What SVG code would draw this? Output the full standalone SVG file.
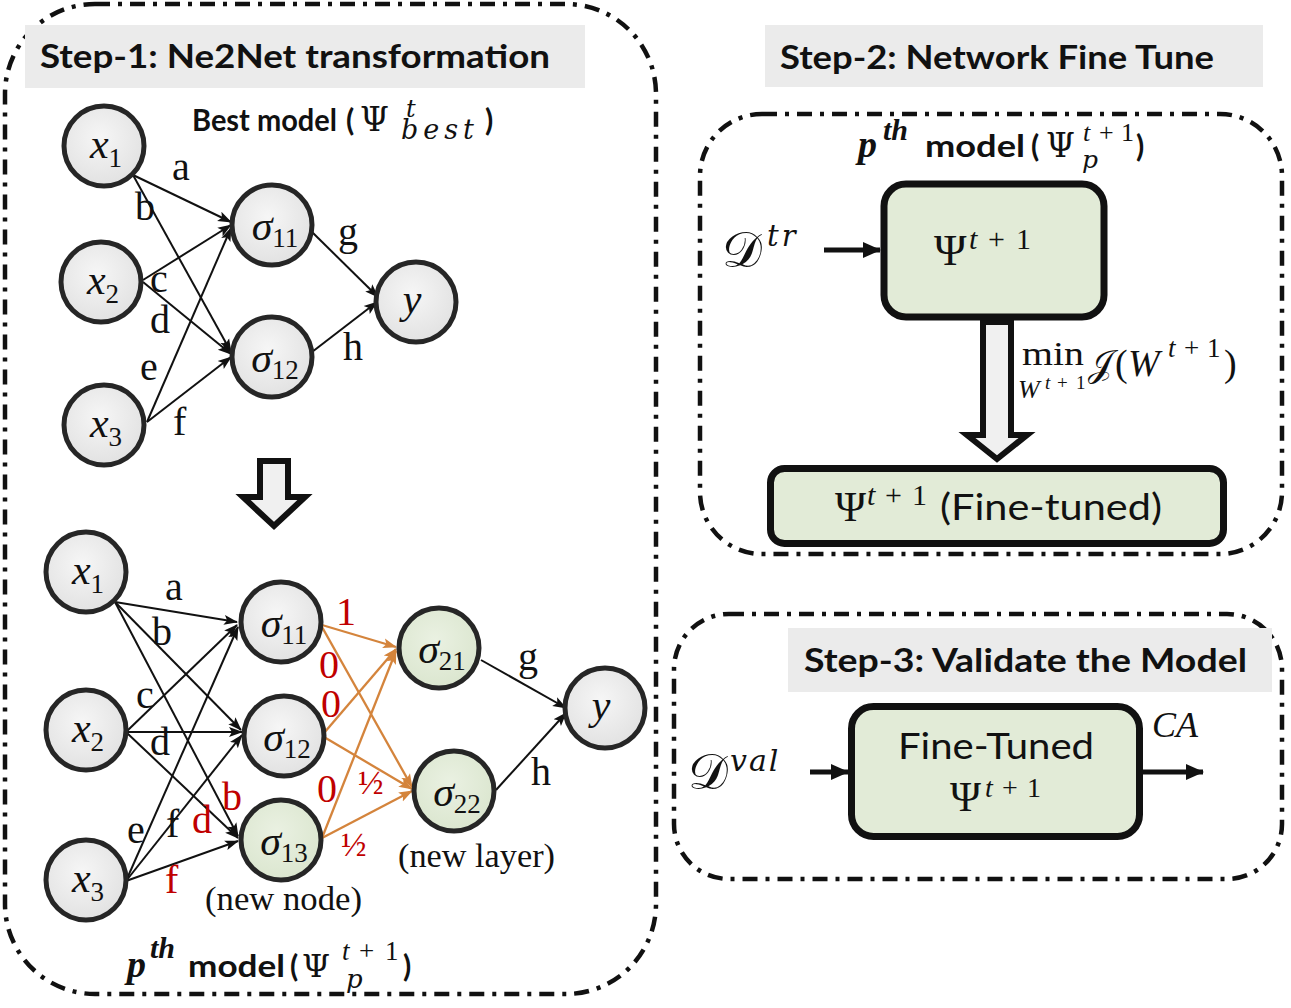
<svg xmlns="http://www.w3.org/2000/svg" width="1291" height="1008" viewBox="0 0 1291 1008">
<defs>
<style>
.frame{fill:none;stroke:#111;stroke-width:4.5;stroke-dasharray:15 8 4 8}
.hdr{fill:#ebebeb}
.htxt{font-family:Lato,"Open Sans",sans-serif;font-weight:bold;font-size:32px;fill:#111}
.btxt{font-family:Lato,"Open Sans",sans-serif;font-weight:bold;font-size:30px;fill:#111}
.rtxt{font-family:Lato,"Open Sans",sans-serif;font-size:36px;fill:#111}
.node{stroke:#262626;stroke-width:5}
.gray{fill:url(#gg)}
.green{fill:url(#gr)}
.v{font-family:"Liberation Serif",serif;font-style:italic;font-size:42px;fill:#111}
.s{font-family:"Liberation Serif",serif;font-style:normal;font-size:27px}
.m{font-family:"Liberation Serif",serif;fill:#111}
.mi{font-family:"DejaVu Serif","Liberation Serif",serif;font-style:italic;fill:#111}
.sc{font-family:"DejaVu Serif","Liberation Serif",serif;fill:#111}
.it{font-style:italic}
.lbl{font-family:"Liberation Serif",serif;font-size:40px;fill:#111}
.red{fill:#c00000}
.e{stroke:#111;stroke-width:2;fill:none;marker-end:url(#ab)}
.o{stroke:#d4843c;stroke-width:2.3;fill:none;marker-end:url(#ao)}
.box{fill:#e2ebd7;stroke:#111;stroke-width:7}
.thick{stroke:#111;stroke-width:5;fill:none;marker-end:url(#abig)}
.hollow{fill:#f0f0f0;stroke:#111;stroke-width:6;stroke-linejoin:miter}
</style>
<radialGradient id="gg" cx="0.45" cy="0.4" r="0.6"><stop offset="0" stop-color="#f6f6f6"/><stop offset="1" stop-color="#e2e2e2"/></radialGradient>
<radialGradient id="gr" cx="0.45" cy="0.4" r="0.6"><stop offset="0" stop-color="#eaf1e2"/><stop offset="1" stop-color="#dbe6cf"/></radialGradient>
<marker id="ab" markerUnits="userSpaceOnUse" markerWidth="14" markerHeight="12" viewBox="0 0 14 12" refX="13" refY="6" orient="auto"><path d="M0,1 L14,6 L0,11 L3,6 Z" fill="#111"/></marker>
<marker id="ao" markerUnits="userSpaceOnUse" markerWidth="14" markerHeight="12" viewBox="0 0 14 12" refX="13" refY="6" orient="auto"><path d="M0,1 L14,6 L0,11 L3,6 Z" fill="#d4843c"/></marker>
<marker id="abig" markerUnits="userSpaceOnUse" markerWidth="18" markerHeight="18" viewBox="0 0 18 18" refX="17" refY="9" orient="auto"><path d="M0,1 L18,9 L0,17 Z" fill="#111"/></marker>
</defs>
<rect width="1291" height="1008" fill="#fff"/>

<g id="frames">
<rect class="frame" x="5" y="4" width="651" height="990" rx="90"/>
<rect class="frame" x="700" y="114" width="582" height="440" rx="62"/>
<rect class="frame" x="674" y="614" width="608" height="265" rx="55"/>
</g>

<g id="step1-header">
<rect class="hdr" x="25" y="25" width="560" height="63"/>
<text class="htxt" x="40" y="68" textLength="510" lengthAdjust="spacingAndGlyphs">Step-1: Ne2Net transformation</text>
</g>
<g id="step2-header">
<rect class="hdr" x="765" y="25" width="498" height="62"/>
<text class="htxt" x="780" y="69" textLength="434" lengthAdjust="spacingAndGlyphs">Step-2: Network Fine Tune</text>
</g>
<g id="step3-header">
<rect class="hdr" x="788" y="628" width="484" height="64"/>
<text class="htxt" x="804" y="672" textLength="443" lengthAdjust="spacingAndGlyphs">Step-3: Validate the Model</text>
</g>

<g id="title-best">
<text class="btxt" x="192" y="131" font-size="29" textLength="145" lengthAdjust="spacingAndGlyphs">Best model</text>
<text class="btxt" x="346" y="131">(</text>
<text class="sc" x="360" y="131" font-size="33">Ψ</text>
<text class="mi" x="406" y="117" font-size="24">t</text>
<text class="mi" x="401" y="139" font-size="27" letter-spacing="5">best</text>
<text class="btxt" x="485" y="131">)</text>
</g>

<g id="connectors">
<line class="e" x1="133" y1="175" x2="231" y2="222"/>
<line class="e" x1="133" y1="175" x2="231" y2="352"/>
<line class="e" x1="143" y1="280" x2="231" y2="225"/>
<line class="e" x1="143" y1="282" x2="231" y2="354"/>
<line class="e" x1="147" y1="422" x2="231" y2="228"/>
<line class="e" x1="147" y1="422" x2="231" y2="357"/>
<line class="e" x1="312" y1="232" x2="378" y2="297"/>
<line class="e" x1="312" y1="352" x2="377" y2="302"/>
<line class="e" x1="115" y1="602" x2="237" y2="622"/>
<line class="e" x1="115" y1="602" x2="241" y2="730"/>
<line class="e" x1="115" y1="602" x2="238" y2="836"/>
<line class="e" x1="127" y1="731" x2="237" y2="625"/>
<line class="e" x1="127" y1="732" x2="242" y2="732"/>
<line class="e" x1="127" y1="733" x2="238" y2="838"/>
<line class="e" x1="126" y1="881" x2="238" y2="627"/>
<line class="e" x1="126" y1="881" x2="242" y2="735"/>
<line class="e" x1="126" y1="881" x2="238" y2="841"/>
<line class="o" x1="322" y1="625" x2="396" y2="647"/>
<line class="o" x1="322" y1="627" x2="412" y2="787"/>
<line class="o" x1="324" y1="733" x2="396" y2="649"/>
<line class="o" x1="324" y1="737" x2="412" y2="789"/>
<line class="o" x1="322" y1="838" x2="396" y2="651"/>
<line class="o" x1="322" y1="838" x2="412" y2="791"/>
<line class="e" x1="481" y1="660" x2="566" y2="708"/>
<line class="e" x1="496" y1="790" x2="566" y2="713"/>
<line class="thick" x1="824" y1="250" x2="880" y2="250"/>
<line class="thick" x1="810" y1="772" x2="848" y2="772"/>
<line class="thick" x1="1143" y1="772" x2="1203" y2="772"/>
<path class="hollow" d="M983,322 L1011,322 L1011,435 L1027,435 L997,459 L967,435 L983,435 Z"/>
<path class="hollow" d="M260,461 L288,461 L288,497 L305,497 L274,526 L243,497 L260,497 Z"/>
</g>

<g id="edge-labels" class="lbl">
<text x="172" y="180">a</text>
<text x="135" y="220">b</text>
<text x="150" y="292">c</text>
<text x="150" y="333">d</text>
<text x="140" y="380">e</text>
<text x="173" y="435">f</text>
<text x="338" y="245">g</text>
<text x="343" y="360">h</text>
<text x="165" y="600">a</text>
<text x="152" y="645">b</text>
<text x="136" y="708">c</text>
<text x="150" y="755">d</text>
<text x="127" y="843">e</text>
<text x="166" y="837">f</text>
<text class="red" x="192" y="833">d</text>
<text class="red" x="222" y="810">b</text>
<text class="red" x="165" y="893">f</text>
<text class="red" x="336" y="625">1</text>
<text class="red" x="319" y="678">0</text>
<text class="red" x="321" y="717">0</text>
<text class="red" x="317" y="802">0</text>
<text class="red" x="358" y="794" font-size="34">½</text>
<text class="red" x="341" y="856" font-size="34">½</text>
<text x="518" y="670">g</text>
<text x="531" y="785">h</text>
<text x="205" y="910" font-size="33" textLength="157" lengthAdjust="spacingAndGlyphs">(new node)</text>
<text x="398" y="867" font-size="33" textLength="157" lengthAdjust="spacingAndGlyphs">(new layer)</text>
</g>

<g id="t-x1"><circle class="node gray" cx="104" cy="146" r="40"/><text class="v" x="106" y="158" text-anchor="middle">x<tspan class="s" dy="9">1</tspan></text></g>
<g id="t-x2"><circle class="node gray" cx="101" cy="282" r="40"/><text class="v" x="103" y="294" text-anchor="middle">x<tspan class="s" dy="9">2</tspan></text></g>
<g id="t-x3"><circle class="node gray" cx="104" cy="425" r="40"/><text class="v" x="106" y="437" text-anchor="middle">x<tspan class="s" dy="9">3</tspan></text></g>
<g id="t-s11"><circle class="node gray" cx="272" cy="225" r="40"/><text class="v" x="275" y="240" text-anchor="middle">σ<tspan class="s" dy="7">11</tspan></text></g>
<g id="t-s12"><circle class="node gray" cx="272" cy="357" r="40"/><text class="v" x="275" y="372" text-anchor="middle">σ<tspan class="s" dy="7">12</tspan></text></g>
<g id="t-y"><circle class="node gray" cx="416" cy="302" r="40"/><text class="v" x="412" y="313" text-anchor="middle">y</text></g>

<g id="b-x1"><circle class="node gray" cx="86" cy="572" r="40"/><text class="v" x="88" y="584" text-anchor="middle">x<tspan class="s" dy="9">1</tspan></text></g>
<g id="b-x2"><circle class="node gray" cx="86" cy="730" r="40"/><text class="v" x="88" y="742" text-anchor="middle">x<tspan class="s" dy="9">2</tspan></text></g>
<g id="b-x3"><circle class="node gray" cx="86" cy="880" r="40"/><text class="v" x="88" y="892" text-anchor="middle">x<tspan class="s" dy="9">3</tspan></text></g>
<g id="b-s11"><circle class="node gray" cx="281" cy="622" r="40"/><text class="v" x="284" y="637" text-anchor="middle">σ<tspan class="s" dy="7">11</tspan></text></g>
<g id="b-s12"><circle class="node gray" cx="284" cy="736" r="40"/><text class="v" x="287" y="751" text-anchor="middle">σ<tspan class="s" dy="7">12</tspan></text></g>
<g id="b-s13"><circle class="node green" cx="281" cy="840" r="40"/><text class="v" x="284" y="855" text-anchor="middle">σ<tspan class="s" dy="7">13</tspan></text></g>
<g id="b-s21"><circle class="node green" cx="439" cy="648" r="40"/><text class="v" x="442" y="663" text-anchor="middle">σ<tspan class="s" dy="7">21</tspan></text></g>
<g id="b-s22"><circle class="node green" cx="454" cy="791" r="40"/><text class="v" x="457" y="806" text-anchor="middle">σ<tspan class="s" dy="7">22</tspan></text></g>
<g id="b-y"><circle class="node gray" cx="605" cy="708" r="40"/><text class="v" x="601" y="719" text-anchor="middle">y</text></g>

<g id="title-pth-left">
<text class="m it" x="127" y="977" font-size="38" font-weight="bold">p</text>
<text class="m it" x="150" y="958" font-size="30" font-weight="bold">th</text>
<text class="btxt" x="188" y="977" textLength="97" lengthAdjust="spacingAndGlyphs">model</text>
<text class="btxt" x="290" y="977">(</text>
<text class="sc" x="302" y="977" font-size="32">Ψ</text>
<text class="m" y="960" font-size="27"><tspan class="it" x="342">t</tspan><tspan x="359">+</tspan><tspan x="385">1</tspan></text>
<text class="mi" x="346" y="988" font-size="26">p</text>
<text class="btxt" x="403" y="977">)</text>
</g>

<g id="title-pth-right">
<text class="m it" x="858" y="157" font-size="38" font-weight="bold">p</text>
<text class="m it" x="883" y="140" font-size="30" font-weight="bold">th</text>
<text class="btxt" x="925" y="157" textLength="100" lengthAdjust="spacingAndGlyphs">model</text>
<text class="btxt" x="1031" y="157">(</text>
<text class="sc" x="1046" y="157" font-size="33">Ψ</text>
<text class="m" y="141" font-size="26"><tspan class="it" x="1083">t</tspan><tspan x="1099">+</tspan><tspan x="1121">1</tspan></text>
<text class="mi" x="1082" y="168" font-size="25">p</text>
<text class="btxt" x="1136" y="157">)</text>
</g>
<g id="d-tr">
<text class="sc" x="722" y="267" font-size="50">𝒟</text>
<text class="mi" x="767" y="246" font-size="29" letter-spacing="3">tr</text>
</g>
<g id="box-psi">
<rect class="box" x="884" y="184" width="220" height="133" rx="22"/>
<text class="m" x="934" y="265" font-size="44">Ψ</text>
<text class="m" y="249" font-size="30"><tspan class="it" x="969">t</tspan><tspan x="988">+</tspan><tspan x="1016">1</tspan></text>
</g>
<g id="min-label">
<text class="m" x="1022" y="365" font-size="34" textLength="62" lengthAdjust="spacingAndGlyphs">min</text>
<text class="m it" x="1018" y="398" font-size="26">W</text>
<text class="m" y="389" font-size="19"><tspan class="it" x="1045">t</tspan><tspan x="1057">+</tspan><tspan x="1076">1</tspan></text>
<text class="sc" x="1088" y="376" font-size="36">𝒥</text>
<text class="m" x="1115" y="376" font-size="38">(</text>
<text class="m it" x="1128" y="376" font-size="38">W</text>
<text class="m" y="357" font-size="27"><tspan class="it" x="1168">t</tspan><tspan x="1184">+</tspan><tspan x="1207">1</tspan></text>
<text class="m" x="1224" y="376" font-size="38">)</text>
</g>
<g id="box-finetuned">
<rect class="box" x="770.5" y="468.5" width="453" height="75" rx="14"/>
<text class="m" x="835" y="521" font-size="42">Ψ</text>
<text class="m" y="505" font-size="30"><tspan class="it" x="867">t</tspan><tspan x="885">+</tspan><tspan x="912">1</tspan></text>
<text class="rtxt" x="940" y="520" textLength="222" lengthAdjust="spacingAndGlyphs">(Fine-tuned)</text>
</g>

<g id="d-val">
<text class="sc" x="688" y="789" font-size="50">𝒟</text>
<text class="mi" x="730" y="771" font-size="30" letter-spacing="2">val</text>
</g>
<g id="box-validate">
<rect class="box" x="851.5" y="706.5" width="288" height="130" rx="22"/>
<text class="rtxt" x="898" y="759" textLength="196" lengthAdjust="spacingAndGlyphs">Fine-Tuned</text>
<text class="m" x="950" y="811" font-size="42">Ψ</text>
<text class="m" y="797" font-size="28"><tspan class="it" x="985">t</tspan><tspan x="1002">+</tspan><tspan x="1027">1</tspan></text>
</g>
<g id="ca-label"><text class="m it" x="1152" y="737" font-size="36">CA</text></g>
</svg>
